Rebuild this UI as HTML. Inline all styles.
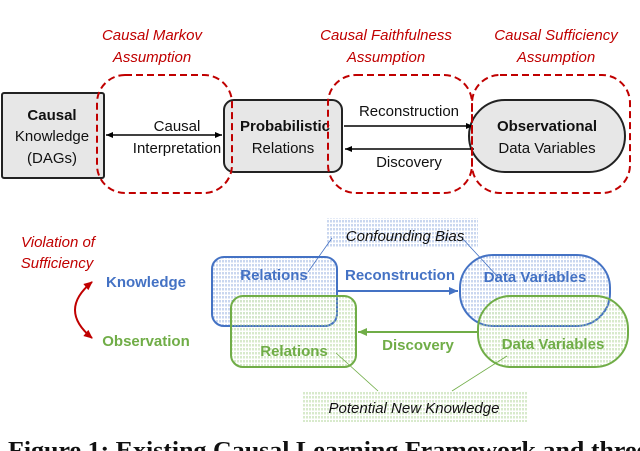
<!DOCTYPE html>
<html><head><meta charset="utf-8"><style>
html,body{margin:0;padding:0;background:#fff}
svg{display:block}
</style></head><body>
<svg width="640" height="451" viewBox="0 0 640 451" xmlns="http://www.w3.org/2000/svg" font-family="Liberation Sans, sans-serif">
<defs>
<pattern id="pb" width="3" height="4" patternUnits="userSpaceOnUse"><line x1="1" y1="0" x2="1" y2="2.5" stroke="#8aa6dc" stroke-width="0.9"/></pattern>
<pattern id="pg" width="3" height="4" patternUnits="userSpaceOnUse"><line x1="1" y1="0" x2="1" y2="2.5" stroke="#a9d18e" stroke-width="0.9"/></pattern>
<marker id="ak" markerWidth="8" markerHeight="8" refX="7" refY="4" orient="auto-start-reverse" markerUnits="userSpaceOnUse"><path d="M0,1 L7,4 L0,7 z" fill="#000"/></marker>
<marker id="ab" markerWidth="10" markerHeight="10" refX="9" refY="5" orient="auto" markerUnits="userSpaceOnUse"><path d="M0,1 L9,5 L0,9 z" fill="#4472c4"/></marker>
<marker id="ag" markerWidth="10" markerHeight="10" refX="9" refY="5" orient="auto" markerUnits="userSpaceOnUse"><path d="M0,1 L9,5 L0,9 z" fill="#70ad47"/></marker>
<marker id="ar" markerWidth="10" markerHeight="10" refX="8" refY="5" orient="auto-start-reverse" markerUnits="userSpaceOnUse"><path d="M0,1 L9,5 L0,9 z" fill="#c00000"/></marker>
</defs>

<g fill="#c00000" font-style="italic" font-size="15" text-anchor="middle">
<text x="152" y="40">Causal Markov</text><text x="152" y="62">Assumption</text>
<text x="386" y="40">Causal Faithfulness</text><text x="386" y="62">Assumption</text>
<text x="556" y="40">Causal Sufficiency</text><text x="556" y="62">Assumption</text>
</g>

<rect x="2" y="93" width="102" height="85" rx="2" fill="#e7e7e7" stroke="#222" stroke-width="2"/>
<rect x="224" y="100" width="118" height="72" rx="10" fill="#e7e7e7" stroke="#222" stroke-width="2"/>
<rect x="469" y="100" width="156" height="72" rx="36" fill="#e7e7e7" stroke="#222" stroke-width="2"/>

<g font-size="15" text-anchor="middle" fill="#111">
<text x="52" y="120" font-weight="bold">Causal</text>
<text x="52" y="141">Knowledge</text>
<text x="52" y="163">(DAGs)</text>
<text x="285" y="131" font-weight="bold">Probabilistic</text>
<text x="283" y="153">Relations</text>
<text x="547" y="131" font-weight="bold">Observational</text>
<text x="547" y="153">Data Variables</text>
<text x="177" y="131">Causal</text>
<text x="177" y="153">Interpretation</text>
<text x="409" y="116">Reconstruction</text>
<text x="409" y="167">Discovery</text>
</g>

<line x1="106" y1="135" x2="222" y2="135" stroke="#000" stroke-width="1.5" marker-start="url(#ak)" marker-end="url(#ak)"/>
<line x1="344" y1="126" x2="473" y2="126" stroke="#000" stroke-width="1.5" marker-end="url(#ak)"/>
<line x1="474" y1="149" x2="345" y2="149" stroke="#000" stroke-width="1.5" marker-end="url(#ak)"/>

<g fill="none" stroke="#c00000" stroke-width="2" stroke-dasharray="7,4">
<rect x="97" y="75" width="135" height="118" rx="28"/>
<rect x="328" y="75" width="144" height="118" rx="28"/>
<rect x="472" y="75" width="158" height="118" rx="28"/>
</g>

<g fill="#c00000" font-style="italic" font-size="15" text-anchor="middle">
<text x="58" y="247">Violation of</text><text x="57" y="268">Sufficiency</text>
</g>
<path d="M92,282 Q58,310 92,338" fill="none" stroke="#c00000" stroke-width="2" marker-start="url(#ar)" marker-end="url(#ar)"/>
<text x="146" y="287" font-size="15" font-weight="bold" fill="#4472c4" text-anchor="middle">Knowledge</text>
<text x="146" y="346" font-size="15" font-weight="bold" fill="#70ad47" text-anchor="middle">Observation</text>

<rect x="326" y="218" width="152" height="30" fill="url(#pb)"/>
<rect x="302" y="391" width="225" height="31" fill="url(#pg)"/>

<rect x="212" y="257" width="125" height="69" rx="12" fill="url(#pb)" stroke="#4472c4" stroke-width="2"/>
<rect x="460" y="255" width="150" height="71" rx="33" fill="url(#pb)" stroke="#4472c4" stroke-width="2"/>
<rect x="231" y="296" width="125" height="71" rx="12" fill="url(#pg)" stroke="#70ad47" stroke-width="2"/>
<rect x="478" y="296" width="150" height="71" rx="33" fill="url(#pg)" stroke="#70ad47" stroke-width="2"/>

<g stroke-width="0.8" fill="none">
<line x1="332" y1="238" x2="308" y2="272" stroke="#4472c4"/>
<line x1="462" y1="238" x2="498" y2="277" stroke="#4472c4"/>
<line x1="336" y1="353" x2="378" y2="391" stroke="#70ad47"/>
<line x1="507" y1="356" x2="452" y2="391" stroke="#70ad47"/>
</g>

<g font-size="15" text-anchor="middle">
<text x="274" y="280" fill="#4472c4" font-weight="bold">Relations</text>
<text x="535" y="282" fill="#4472c4" font-weight="bold">Data Variables</text>
<text x="294" y="356" fill="#70ad47" font-weight="bold">Relations</text>
<text x="553" y="349" fill="#70ad47" font-weight="bold">Data Variables</text>
<text x="400" y="280" fill="#4472c4" font-weight="bold">Reconstruction</text>
<text x="418" y="350" fill="#70ad47" font-weight="bold">Discovery</text>
<text x="405" y="241" fill="#111" font-style="italic">Confounding Bias</text>
<text x="414" y="413" fill="#111" font-style="italic">Potential New Knowledge</text>
</g>
<line x1="338" y1="291" x2="458" y2="291" stroke="#4472c4" stroke-width="2" marker-end="url(#ab)"/>
<line x1="477" y1="332" x2="358" y2="332" stroke="#70ad47" stroke-width="2" marker-end="url(#ag)"/>

<text x="8" y="458" font-family="Liberation Serif, serif" font-weight="bold" font-size="24" fill="#111" textLength="640" lengthAdjust="spacingAndGlyphs">Figure 1: Existing Causal Learning Framework and three</text>
</svg>
</body></html>
